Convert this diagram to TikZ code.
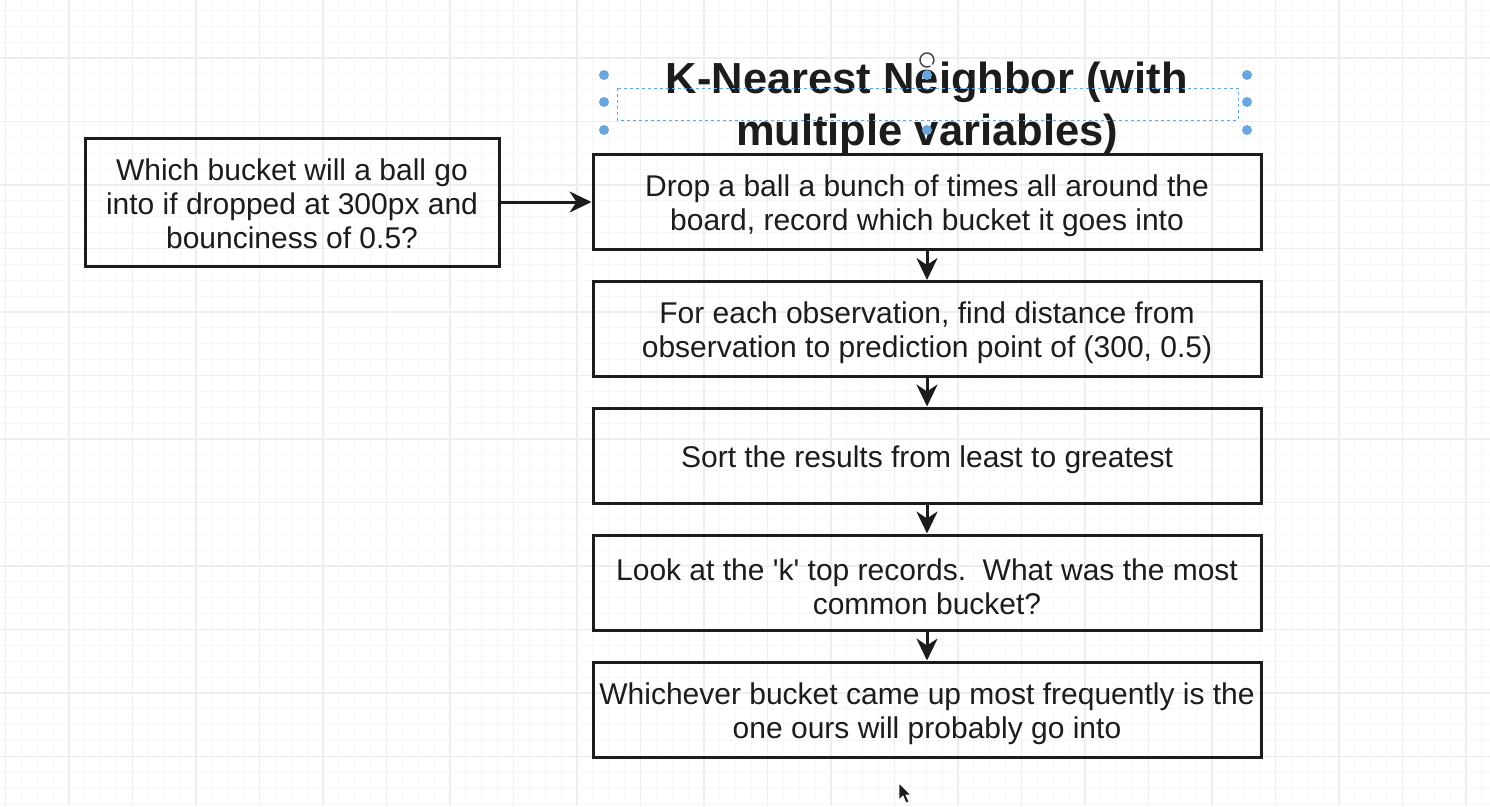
\documentclass[tikz,border=0pt]{standalone}
\usepackage{fontspec}
\setmainfont{Liberation Sans}
\usetikzlibrary{arrows.meta}
\definecolor{gridminor}{HTML}{F7F7F8}
\definecolor{gridmajor}{HTML}{EEEEF1}
\definecolor{handle}{HTML}{6AA6DE}
\definecolor{ink}{HTML}{1C1C1C}
\begin{document}
\begin{tikzpicture}[x=1pt,y=-1pt,
  minorline/.style={gridminor, line width=1pt},
  majorline/.style={gridmajor, line width=1.2pt},
  stepbox/.style={draw=ink, line width=3pt, minimum width=668pt, minimum height=95pt, inner sep=0pt},
  askbox/.style={stepbox, minimum width=414pt, minimum height=128pt},
  boxtext/.style={align=center, inner sep=0pt, text=ink, font=\fontsize{30}{34}\selectfont},
  flow/.style={draw=ink, line width=3pt, -{Stealth[length=22pt,width=21pt,inset=7pt]}},
  titletext/.style={align=center, inner sep=0pt, text=ink, font=\fontsize{43.5}{52}\selectfont\bfseries},
  handledot/.style={fill=handle},
  selframe/.style={draw=handle, line width=1pt, dash pattern=on 3pt off 3pt}]
\useasboundingbox (0,0) rectangle (1490,806);
\fill[white] (0,0) rectangle (1490,806);
% grid
\foreach \i in {0,...,93} {\draw[minorline] ({5.5+15.875*\i},0) -- ({5.5+15.875*\i},806);}
\foreach \k in {1,...,51} {\draw[minorline] (0,{-5.5+15.875*\k}) -- (1490,{-5.5+15.875*\k});}
\foreach \i in {0,...,23} {\draw[majorline] ({5.5+63.5*\i},0) -- ({5.5+63.5*\i},806);}
\foreach \k in {1,...,12} {\draw[majorline] (0,{-5.5+63.5*\k}) -- (1490,{-5.5+63.5*\k});}
% title
\node[titletext] (title) at (927,108.5) {K-Nearest Neighbor (with\\multiple variables)};
% boxes
\node[askbox] (q) at (292,202) {};
\node[stepbox] (b1) at (927,201.5) {};
\node[stepbox] (b2) at (927,329) {};
\node[stepbox] (b3) at (927,455.5) {};
\node[stepbox] (b4) at (927,582.5) {};
\node[stepbox] (b5) at (927,709.5) {};
% box texts
\node[boxtext] (qt) at ([yshift=-1.5pt]q.center) {Which bucket will a ball go\\into if dropped at 300px and\\bounciness of 0.5?};
\node[boxtext] (b1t) at ([yshift=-4pt]b1.center) {Drop a ball a bunch of times all around the\\board, record which bucket it goes into};
\node[boxtext] (b2t) at ([yshift=-4pt]b2.center) {For each observation, find distance from\\observation to prediction point of (300, 0.5)};
\node[boxtext] (b3t) at ([yshift=-4pt]b3.center) {Sort the results from least to greatest};
\node[boxtext] (b4t) at ([yshift=-4pt]b4.center) {Look at the \textquotesingle k\textquotesingle\ top records.\ \ What was the most\\common bucket?};
\node[boxtext] (b5t) at ([yshift=-4pt]b5.center) {Whichever bucket came up most frequently is the\\one ours will probably go into};
% connectors
\draw[flow] (q.east) -- (q.east -| b1.west);
\draw[flow] (b1) -- (b2);
\draw[flow] (b2) -- (b3);
\draw[flow] (b3) -- (b4);
\draw[flow] (b4) -- (b5);
% selection handles around the title
\draw[selframe] (617,88) rectangle (1238,120);
\foreach \hx in {604,1247} {\foreach \hy in {75,102,130} {\fill[handledot] (\hx,\hy) circle (5);}}
\fill[handledot] (927,75) circle (5);
\fill[handledot] (927,130) circle (5);
\draw[gray!60!black, line width=1.5pt] (927,60) ++(60:7) arc[start angle=60, end angle=400, radius=7];
% mouse pointer
\filldraw[fill=ink, draw=white, line width=0.8pt] (899,783) -- (899,800) -- (903,796) -- (906,803) -- (909,802) -- (906,795) -- (911,795) -- cycle;
\end{tikzpicture}
\end{document}
